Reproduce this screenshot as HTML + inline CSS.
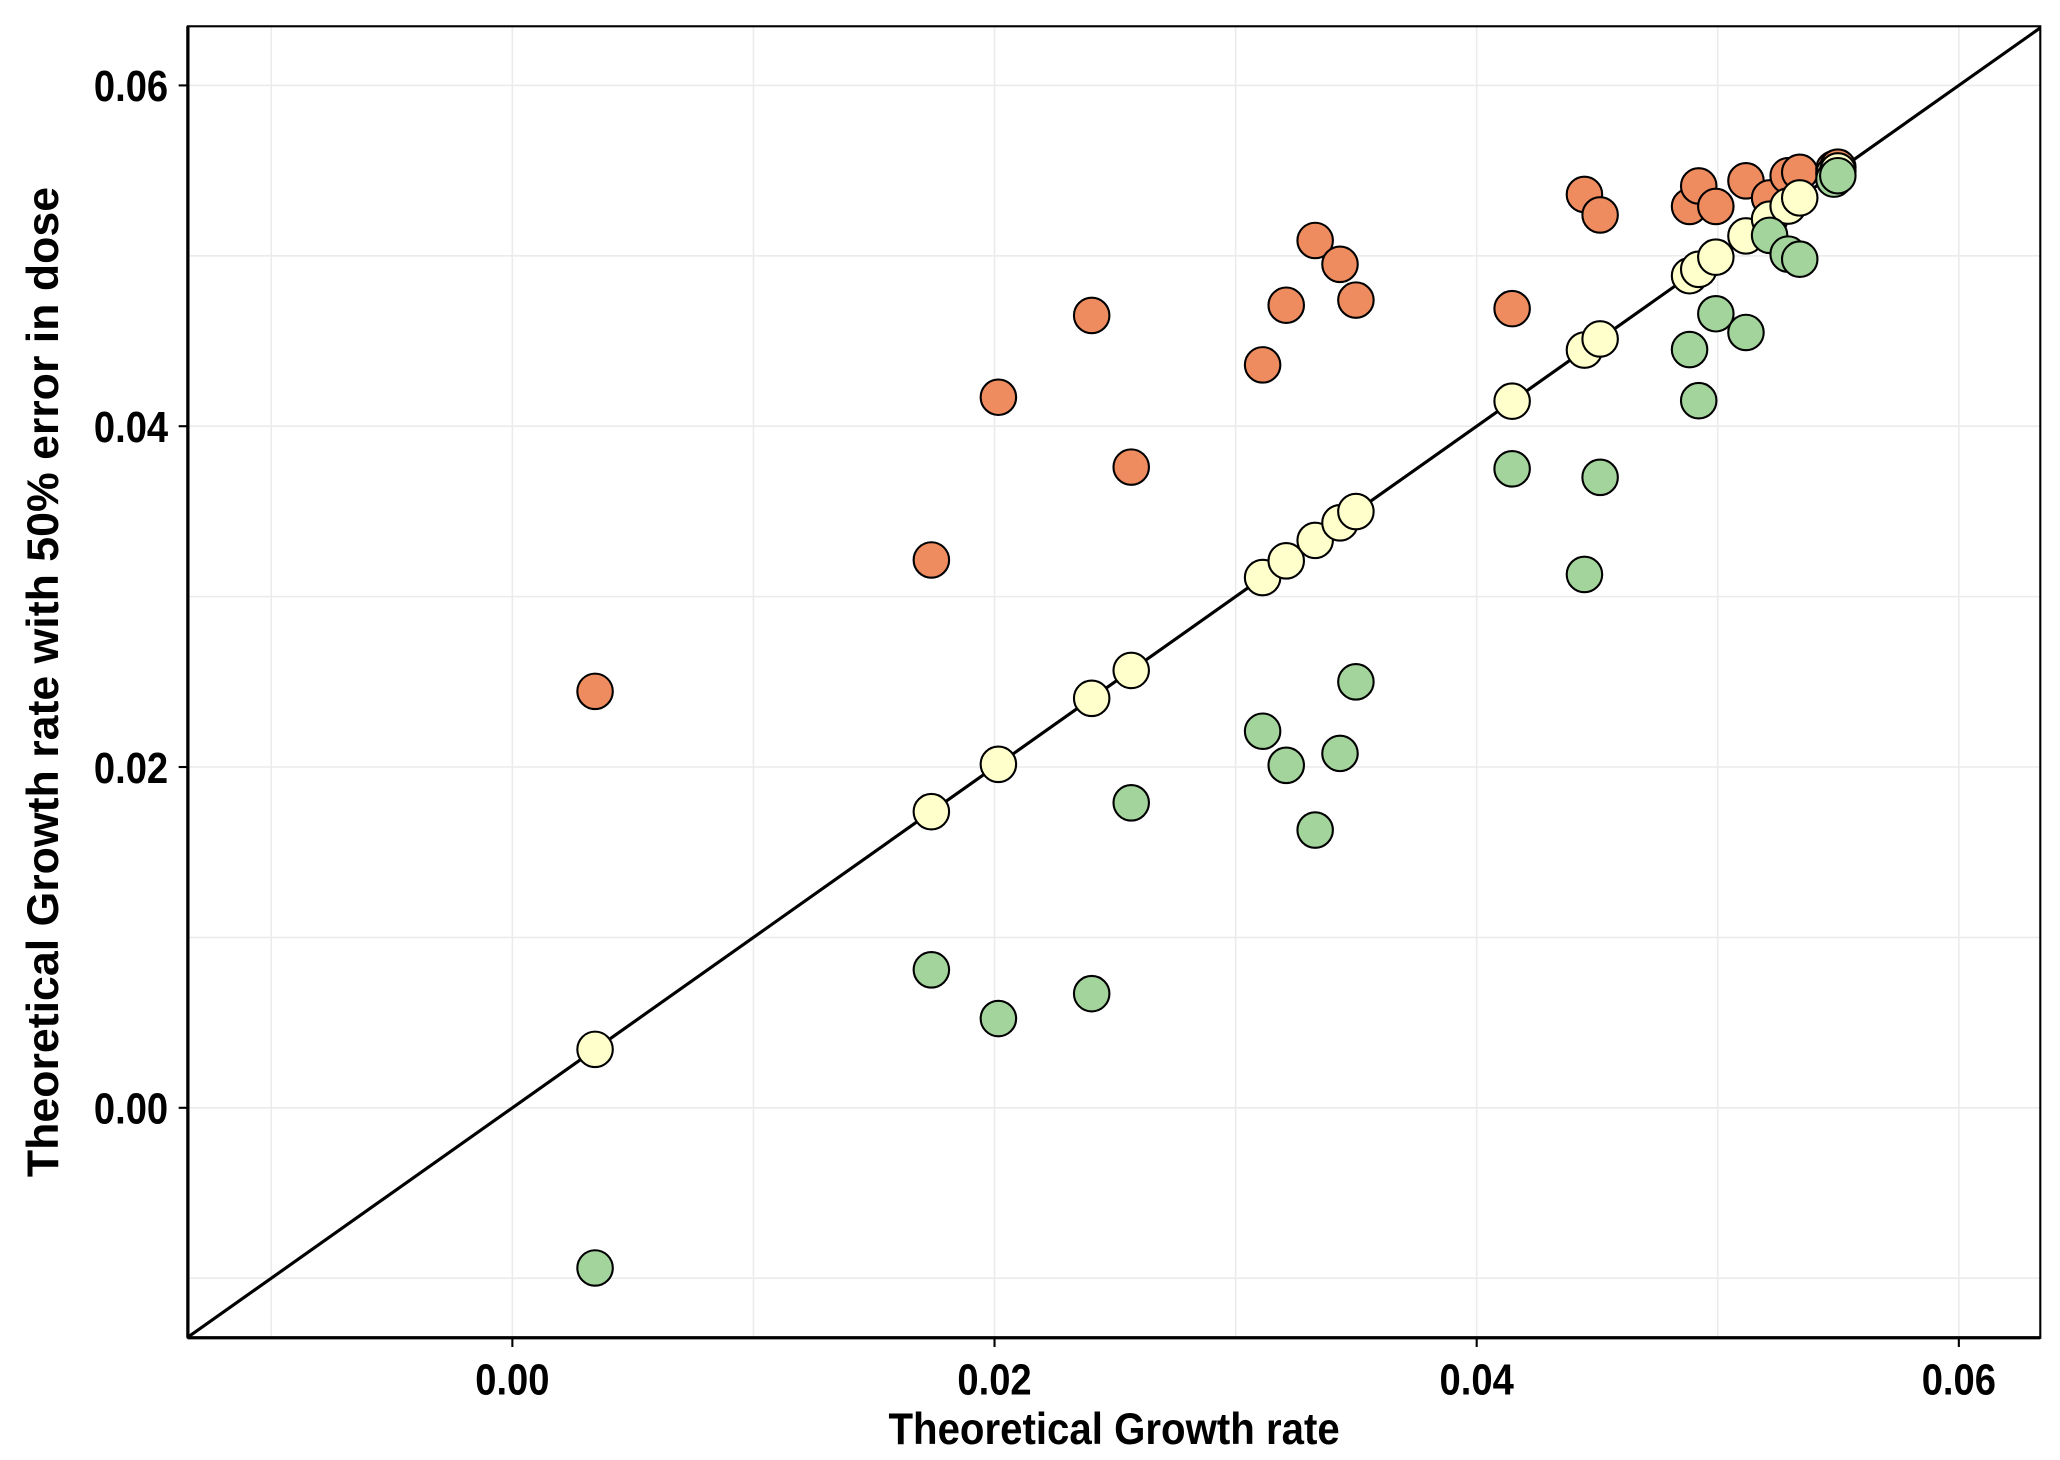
<!DOCTYPE html>
<html><head><meta charset="utf-8"><style>
html,body{margin:0;padding:0;background:#fff;}
svg{display:block;}
text{font-family:"Liberation Sans",sans-serif;font-weight:bold;fill:#000;}
</style></head><body>
<svg id="chart" width="2060" height="1460" viewBox="0 0 1568 1111" preserveAspectRatio="none" xmlns="http://www.w3.org/2000/svg">
<defs><clipPath id="clip"><rect x="143" y="20" width="1410" height="998"/></clipPath></defs>
<g id="grid"></g>
<g id="diag" clip-path="url(#clip)"></g>
<g id="points" clip-path="url(#clip)"></g>
<rect x="143" y="20" width="1410" height="998" fill="none" stroke="#000" stroke-width="1.6"/>
<line x1="143" y1="1018" x2="1553" y2="1018" stroke="#000" stroke-width="2.5"/>
<line x1="143" y1="20" x2="143" y2="1018" stroke="#000" stroke-width="2.5"/>
<g id="axes"></g>
<text x="848" y="1099" text-anchor="middle" font-size="34" transform="translate(848,0) scale(0.9,1) translate(-848,0)">Theoretical Growth rate</text>
<text transform="translate(44,519) rotate(-90)" text-anchor="middle" font-size="34">Theoretical Growth rate with 50% error in dose</text>
</svg>
<script>
const xTicks = [0.00, 0.02, 0.04, 0.06];
const xTickLabels = ["0.00", "0.02", "0.04", "0.06"];
const yTicks = [0.00, 0.02, 0.04, 0.06];
const yTickLabels = ["0.00", "0.02", "0.04", "0.06"];
const xMinor = [-0.01, 0.01, 0.03, 0.05];
const yMinor = [-0.01, 0.01, 0.03, 0.05];
const xValues = [0.00343,0.01738,0.02016,0.02403,0.02567,0.03112,0.0321,0.0333,0.03433,0.03499,0.04147,0.04447,0.04512,0.04883,0.04921,0.04992,0.05117,0.05215,0.05292,0.0534,0.05482,0.05498];
const highValues = [0.02444,0.03215,0.0417,0.0465,0.0376,0.0436,0.0471,0.0509,0.0495,0.0474,0.0469,0.0536,0.0524,0.0529,0.0541,0.0529,0.0544,0.0534,0.0547,0.0549,0.0551,0.0552];
const exactValues = [0.00343,0.01738,0.02016,0.02403,0.02567,0.03112,0.0321,0.0333,0.03433,0.03499,0.04147,0.04447,0.04512,0.04883,0.04921,0.04992,0.05117,0.05215,0.05292,0.0534,0.05482,0.05498];
const lowValues = [-0.0094,0.0081,0.00524,0.0067,0.0179,0.0221,0.0201,0.0163,0.0208,0.0250,0.0375,0.0313,0.0370,0.0445,0.0415,0.0466,0.0455,0.0512,0.0501,0.0498,0.0545,0.0547];

const NS = "http://www.w3.org/2000/svg";
const xs = v => 390 + (v - 0) * (1491 - 390) / 0.06;
const ys = v => 843 - (v - 0) * (843 - 65) / 0.06;
function mk(tag, attrs, parent){const e=document.createElementNS(NS,tag);for(const k in attrs)e.setAttribute(k,attrs[k]);parent.appendChild(e);return e;}

const grid = document.getElementById('grid');
xMinor.concat(xTicks).forEach(v=>{
  const l=mk('line',{x1:xs(v),x2:xs(v),y1:20,y2:1018,stroke:'#ebebeb','stroke-width':1.2},grid);
  
  
});
yMinor.concat(yTicks).forEach(v=>{
  const l=mk('line',{x1:143,x2:1553,y1:ys(v),y2:ys(v),stroke:'#ebebeb','stroke-width':1.2},grid);
  
  
});

const diag = document.getElementById('diag');
const dl = mk('line',{x1:xs(-0.02),y1:ys(-0.02),x2:xs(0.07),y2:ys(0.07),stroke:'#000','stroke-width':2.4},diag);



const pts = document.getElementById('points');
function series(vals, color, name){
  vals.forEach((v,i)=>{
    const c=mk('circle',{cx:xs(xValues[i]),cy:ys(v),r:13.5,fill:color,stroke:'#000','stroke-width':1.6},pts);
    
    
  });
}
series(highValues,'#EE8C5F','point-overdose');
series(exactValues,'#FFFFCC','point-exact-dose');
series(lowValues,'#A2D49C','point-underdose');

const axes = document.getElementById('axes');
xTicks.forEach((v,i)=>{
  const t=mk('line',{x1:xs(v),x2:xs(v),y1:1018,y2:1025,stroke:'#000','stroke-width':1.6},axes);
  
  
  const tx=mk('text',{x:xs(v),y:1061,'text-anchor':'middle','font-size':33,transform:`translate(${xs(v)},0) scale(0.88,1) translate(${-xs(v)},0)`},axes);
  tx.textContent=xTickLabels[i];
  
  
});
yTicks.forEach((v,i)=>{
  const t=mk('line',{x1:136,x2:143,y1:ys(v),y2:ys(v),stroke:'#000','stroke-width':1.6},axes);
  
  
  const tx=mk('text',{x:128,y:ys(v)+12,'text-anchor':'end','font-size':33,transform:`translate(128,0) scale(0.88,1) translate(-128,0)`},axes);
  tx.textContent=yTickLabels[i];
  
  
});
</script>
</body></html>
